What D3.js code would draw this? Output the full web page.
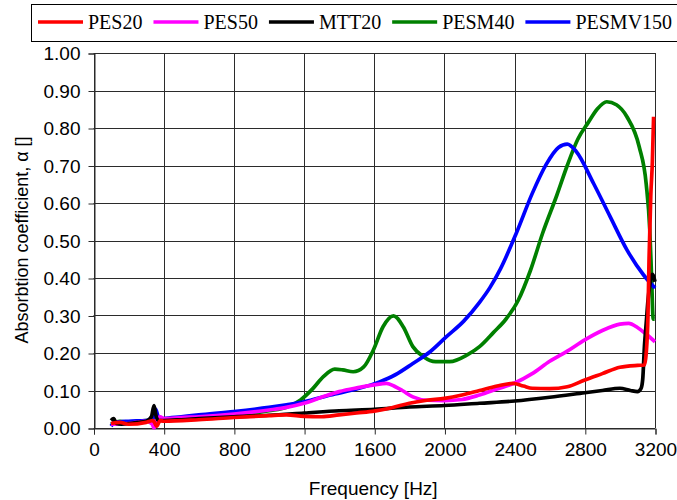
<!DOCTYPE html>
<html lang="en">
  <head>
    <meta charset="UTF-8" />
    <title>Absorption coefficient</title>
    <style>
      body { margin: 0; background: #fff; }
    </style>
  </head>

  <body>
    <svg width="677" height="500"></svg>

    <script src="https://d3js.org/d3.v7.min.js"></script>
    <script>
      // data: [frequency Hz, alpha]
      var pes20 = [[100,0.012],[150,0.015],[200,0.01],[300,0.015],[340,0.02],[360,0.005],[380,0.02],[400,0.018],[600,0.022],[800,0.028],[1000,0.033],[1100,0.035],[1200,0.031],[1300,0.03],[1400,0.035],[1500,0.04],[1600,0.045],[1700,0.054],[1800,0.066],[1900,0.074],[2000,0.079],[2100,0.088],[2200,0.1],[2300,0.112],[2390,0.119],[2450,0.112],[2500,0.106],[2600,0.105],[2700,0.11],[2800,0.128],[2900,0.145],[3000,0.162],[3100,0.167],[3140,0.168],[3150,0.2],[3160,0.3],[3166,0.45],[3176,0.62],[3185,0.71],[3192,0.83]];
      var pes50 = [[100,0.01],[200,0.012],[300,0.018],[335,0.01],[345,0.0],[360,0.02],[380,0.03],[400,0.025],[500,0.028],[600,0.03],[800,0.037],[1000,0.048],[1100,0.055],[1200,0.066],[1300,0.082],[1400,0.097],[1500,0.107],[1600,0.115],[1670,0.119],[1720,0.11],[1760,0.1],[1820,0.083],[1900,0.074],[2000,0.073],[2100,0.076],[2200,0.088],[2300,0.104],[2400,0.12],[2500,0.145],[2600,0.178],[2700,0.205],[2800,0.235],[2900,0.26],[3000,0.277],[3050,0.279],[3100,0.268],[3150,0.25],[3200,0.23]];
      var mtt20 = [[100,0.02],[115,0.025],[130,0.012],[160,0.01],[200,0.012],[250,0.015],[300,0.018],[330,0.03],[345,0.06],[355,0.035],[370,0.02],[400,0.02],[500,0.022],[600,0.025],[800,0.03],[1000,0.034],[1200,0.04],[1400,0.046],[1600,0.05],[1800,0.056],[2000,0.06],[2200,0.066],[2400,0.072],[2600,0.082],[2800,0.094],[2900,0.1],[3000,0.106],[3060,0.1],[3100,0.097],[3120,0.105],[3130,0.13],[3140,0.22],[3150,0.28],[3160,0.34],[3170,0.38],[3185,0.41],[3200,0.39]];
      var pesm40 = [[100,0.01],[150,0.018],[200,0.015],[300,0.02],[350,0.01],[380,0.025],[400,0.02],[500,0.024],[600,0.027],[800,0.033],[1000,0.046],[1100,0.055],[1180,0.075],[1250,0.105],[1310,0.137],[1375,0.157],[1420,0.155],[1480,0.15],[1540,0.163],[1595,0.208],[1650,0.27],[1710,0.299],[1765,0.27],[1820,0.217],[1880,0.19],[1950,0.177],[2030,0.177],[2130,0.195],[2200,0.217],[2280,0.255],[2350,0.29],[2420,0.34],[2490,0.42],[2560,0.52],[2640,0.62],[2700,0.7],[2760,0.77],[2820,0.815],[2870,0.85],[2925,0.87],[2980,0.862],[3040,0.83],[3110,0.75],[3150,0.65],[3170,0.53],[3180,0.41],[3190,0.29],[3198,0.29]];
      var pesmv150 = [[100,0.005],[120,0.015],[200,0.018],[300,0.02],[340,0.025],[355,0.05],[365,0.035],[375,0.02],[400,0.025],[500,0.03],[600,0.035],[800,0.044],[1000,0.055],[1100,0.062],[1200,0.07],[1350,0.088],[1500,0.104],[1630,0.123],[1720,0.142],[1820,0.172],[1920,0.204],[2010,0.243],[2110,0.285],[2200,0.335],[2260,0.375],[2320,0.425],[2410,0.52],[2500,0.625],[2580,0.703],[2650,0.748],[2700,0.757],[2750,0.738],[2850,0.652],[2945,0.563],[3040,0.475],[3135,0.408],[3200,0.373]];

      var seriesNames = ["PES20", "PES50", "MTT20", "PESM40", "PESMV150"];
      var seriesColors = ["#ff0000", "#ff00ff", "#000000", "#008000", "#0000ff"];
      var seriesData = [pes20, pes50, mtt20, pesm40, pesmv150];
      var drawOrder = [3, 4, 1, 2, 0]; // red ends up on top at the right edge

      var xTicks = [0, 400, 800, 1200, 1600, 2000, 2400, 2800, 3200];
      var yTicks = [0, 0.1, 0.2, 0.3, 0.4, 0.5, 0.6, 0.7, 0.8, 0.9, 1.0];

      (function () {
        "use strict";

        var svg = d3.select("svg");

        var x = d3.scaleLinear().domain([0, 3200]).range([93.5, 655]);
        var y = d3.scaleLinear().domain([0, 1]).range([428, 53]);

        // grid
        var grid = svg.append("g").attr("stroke", "#2b2b2b").attr("stroke-width", 1);
        grid.selectAll(".hg").data(yTicks).enter().append("line")
          .attr("x1", x(0)).attr("x2", x(3200))
          .attr("y1", function (d) { return Math.round(y(d)) + 0.5; })
          .attr("y2", function (d) { return Math.round(y(d)) + 0.5; });
        grid.selectAll(".vg").data(xTicks).enter().append("line")
          .attr("y1", y(0)).attr("y2", y(1))
          .attr("x1", function (d) { return Math.round(x(d)) + 0.5; })
          .attr("x2", function (d) { return Math.round(x(d)) + 0.5; });

        // axes
        var yAxis = svg.append("g")
          .attr("transform", "translate(" + (Math.round(x(0)) + 0.5) + ",0.5)")
          .call(d3.axisLeft(y).tickValues(yTicks).tickFormat(d3.format(".2f")).tickSize(6).tickPadding(8));
        var xAxis = svg.append("g")
          .attr("transform", "translate(0.5," + (Math.round(y(0)) + 0.5) + ")")
          .call(d3.axisBottom(x).tickValues(xTicks).tickFormat(d3.format("d")).tickSize(6).tickPadding(8));
        [yAxis, xAxis].forEach(function (a) {
          a.select(".domain").attr("stroke", "#2b2b2b");
          a.selectAll(".tick line").attr("stroke", "#2b2b2b");
          a.selectAll("text")
            .attr("font-family", "'Liberation Sans', Arial, sans-serif")
            .attr("font-size", 19)
            .attr("fill", "#000");
        });

        // curves
        var line = d3.line()
          .x(function (d) { return x(d[0]); })
          .y(function (d) { return y(d[1]); })
          .curve(d3.curveMonotoneX);

        drawOrder.forEach(function (i) {
          svg.append("path")
            .datum(seriesData[i])
            .attr("fill", "none")
            .attr("stroke", seriesColors[i])
            .attr("stroke-width", 3.7)
            .attr("stroke-linejoin", "round")
            .attr("d", line);
        });

        // axis titles
        svg.append("text")
          .attr("x", (x(0) + x(3200)) / 2 - 1)
          .attr("y", 495)
          .attr("text-anchor", "middle")
          .attr("font-family", "'Liberation Sans', Arial, sans-serif")
          .attr("font-size", 19)
          .text("Frequency [Hz]");

        svg.append("text")
          .attr("transform", "translate(28,240) rotate(-90)")
          .attr("text-anchor", "middle")
          .attr("font-family", "'Liberation Sans', Arial, sans-serif")
          .attr("font-size", 18)
          .text("Absorbtion coefficient,  \u03b1 []");

        // legend
        svg.append("rect")
          .attr("x", 31.5).attr("y", 4.5)
          .attr("width", 660).attr("height", 37)
          .attr("fill", "#fff").attr("stroke", "#000").attr("stroke-width", 1);

        var lx = 38;
        seriesNames.forEach(function (name, i) {
          svg.append("line")
            .attr("x1", lx).attr("x2", lx + 45)
            .attr("y1", 22).attr("y2", 22)
            .attr("stroke", seriesColors[i]).attr("stroke-width", 3.5);
          var t = svg.append("text")
            .attr("x", lx + 50).attr("y", 29)
            .attr("font-family", "'Liberation Serif', 'Times New Roman', serif")
            .attr("font-size", 20)
            .text(name);
          lx = lx + 50 + t.node().getComputedTextLength() + 11;
        });
      })();
    </script>
  </body>
</html>
